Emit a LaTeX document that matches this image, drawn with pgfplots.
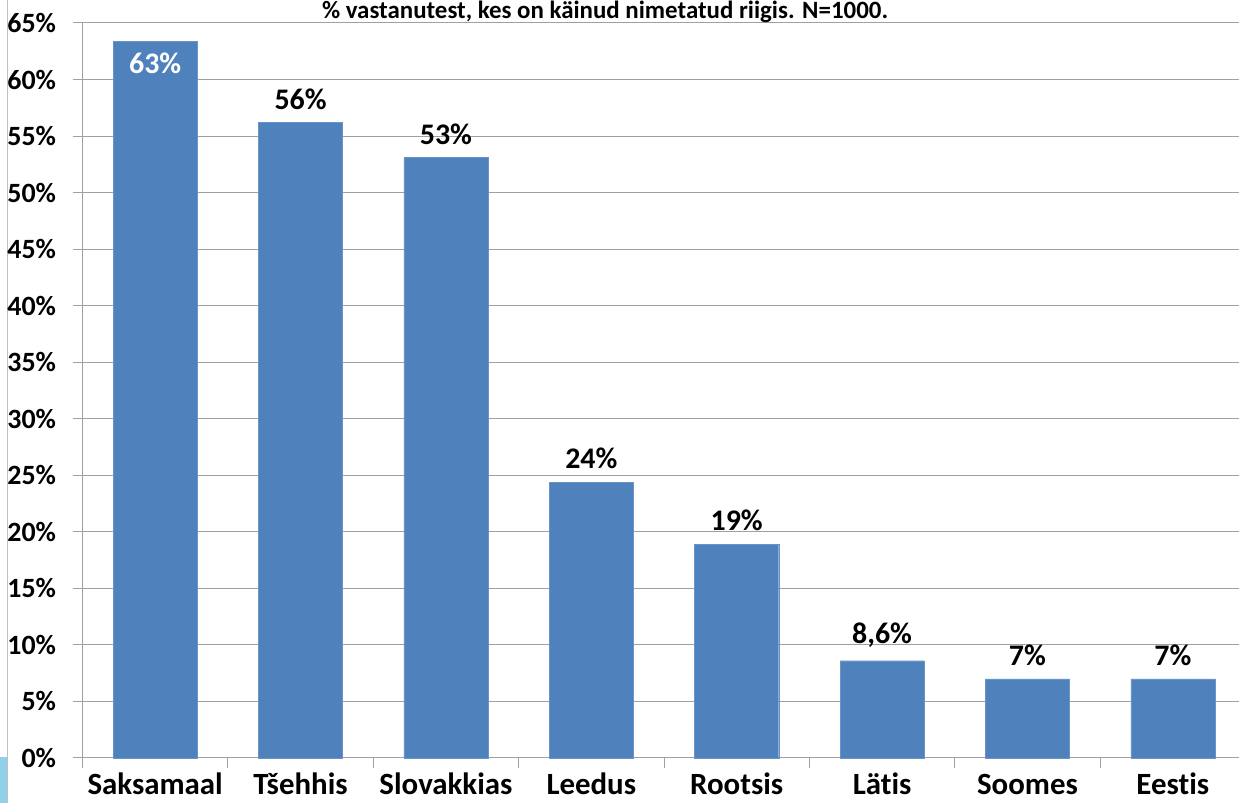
\documentclass[border=0pt]{standalone}
\usepackage{pgfplots}
\pgfplotsset{compat=1.18}
\usepackage{fontspec}
\setmainfont{Carlito}[Ligatures=NoCommon]
\definecolor{barblue}{HTML}{4F81BD}
\definecolor{gridgray}{HTML}{A0A0A0}
\definecolor{leftblue}{HTML}{92D0EA}
\begin{document}
\begin{tikzpicture}[x=1bp,y=1bp]
\path[use as bounding box] (0,0) rectangle (1239,803);
\begin{scope}
\clip (0,0) rectangle (1239,803);
\fill[leftblue] (0,0) rectangle (7,46);
\draw[gray!50, line width=0.8bp] (7,0) -- (7,803);
\begin{axis}[
  at={(82.5bp,45bp)}, anchor=south west,
  scale only axis, width=1163bp, height=735bp,
  ybar, bar width=0.578, bar shift=0pt,
  xmin=-0.5, xmax=7.5, ymin=0, ymax=65,
  axis x line=bottom, axis y line=left,
  axis line style={gridgray, -, line width=1bp},
  xtick={0,...,7},
  xticklabels={Saksamaal,Tšehhis,Slovakkias,Leedus,Rootsis,Lätis,Soomes,Eestis},
  major x tick style={draw=none},
  minor xtick={-0.5,0.5,...,7.5},
  minor x tick style={gridgray, line width=1bp},
  minor tick length=10bp,
  ytick={0,5,...,65},
  yticklabels={0\%,5\%,10\%,15\%,20\%,25\%,30\%,35\%,40\%,45\%,50\%,55\%,60\%,65\%},
  major y tick style={gridgray, line width=1bp},
  major tick length=10bp,
  tick align=outside,
  ymajorgrids, grid style={gridgray, line width=1bp},
  xticklabel style={font=\fontsize{31}{33}\selectfont\bfseries, anchor=base, inner sep=0pt, yshift=-27bp},
  yticklabel style={font=\fontsize{28}{30}\selectfont\bfseries, anchor=east, xshift=-13bp},
  nodes near coords={\pgfplotspointmeta},
  point meta=explicit symbolic,
  every node near coord/.append style={font=\fontsize{30}{32}\selectfont\bfseries, black, anchor=south, inner sep=13bp},
  clip=false,
]
\addplot[fill=barblue, draw=barblue!85!white] table[meta=label] {
x y label
1 56.2 56\%
2 53.1 53\%
3 24.4 24\%
4 18.9 19\%
5 8.6 {8,6\%}
6 7.0 7\%
7 7.0 7\%
};
\addplot[fill=barblue, draw=barblue!85!white,
  every node near coord/.append style={white, anchor=north, inner sep=12bp}] table[meta=label] {
x y label
0 63.4 63\%
};
\end{axis}
\node[anchor=base, font=\fontsize{25}{27}\selectfont\bfseries] at (605,784) {\% vastanutest, kes on käinud nimetatud riigis. N=1000.};
\end{scope}
\end{tikzpicture}
\end{document}
